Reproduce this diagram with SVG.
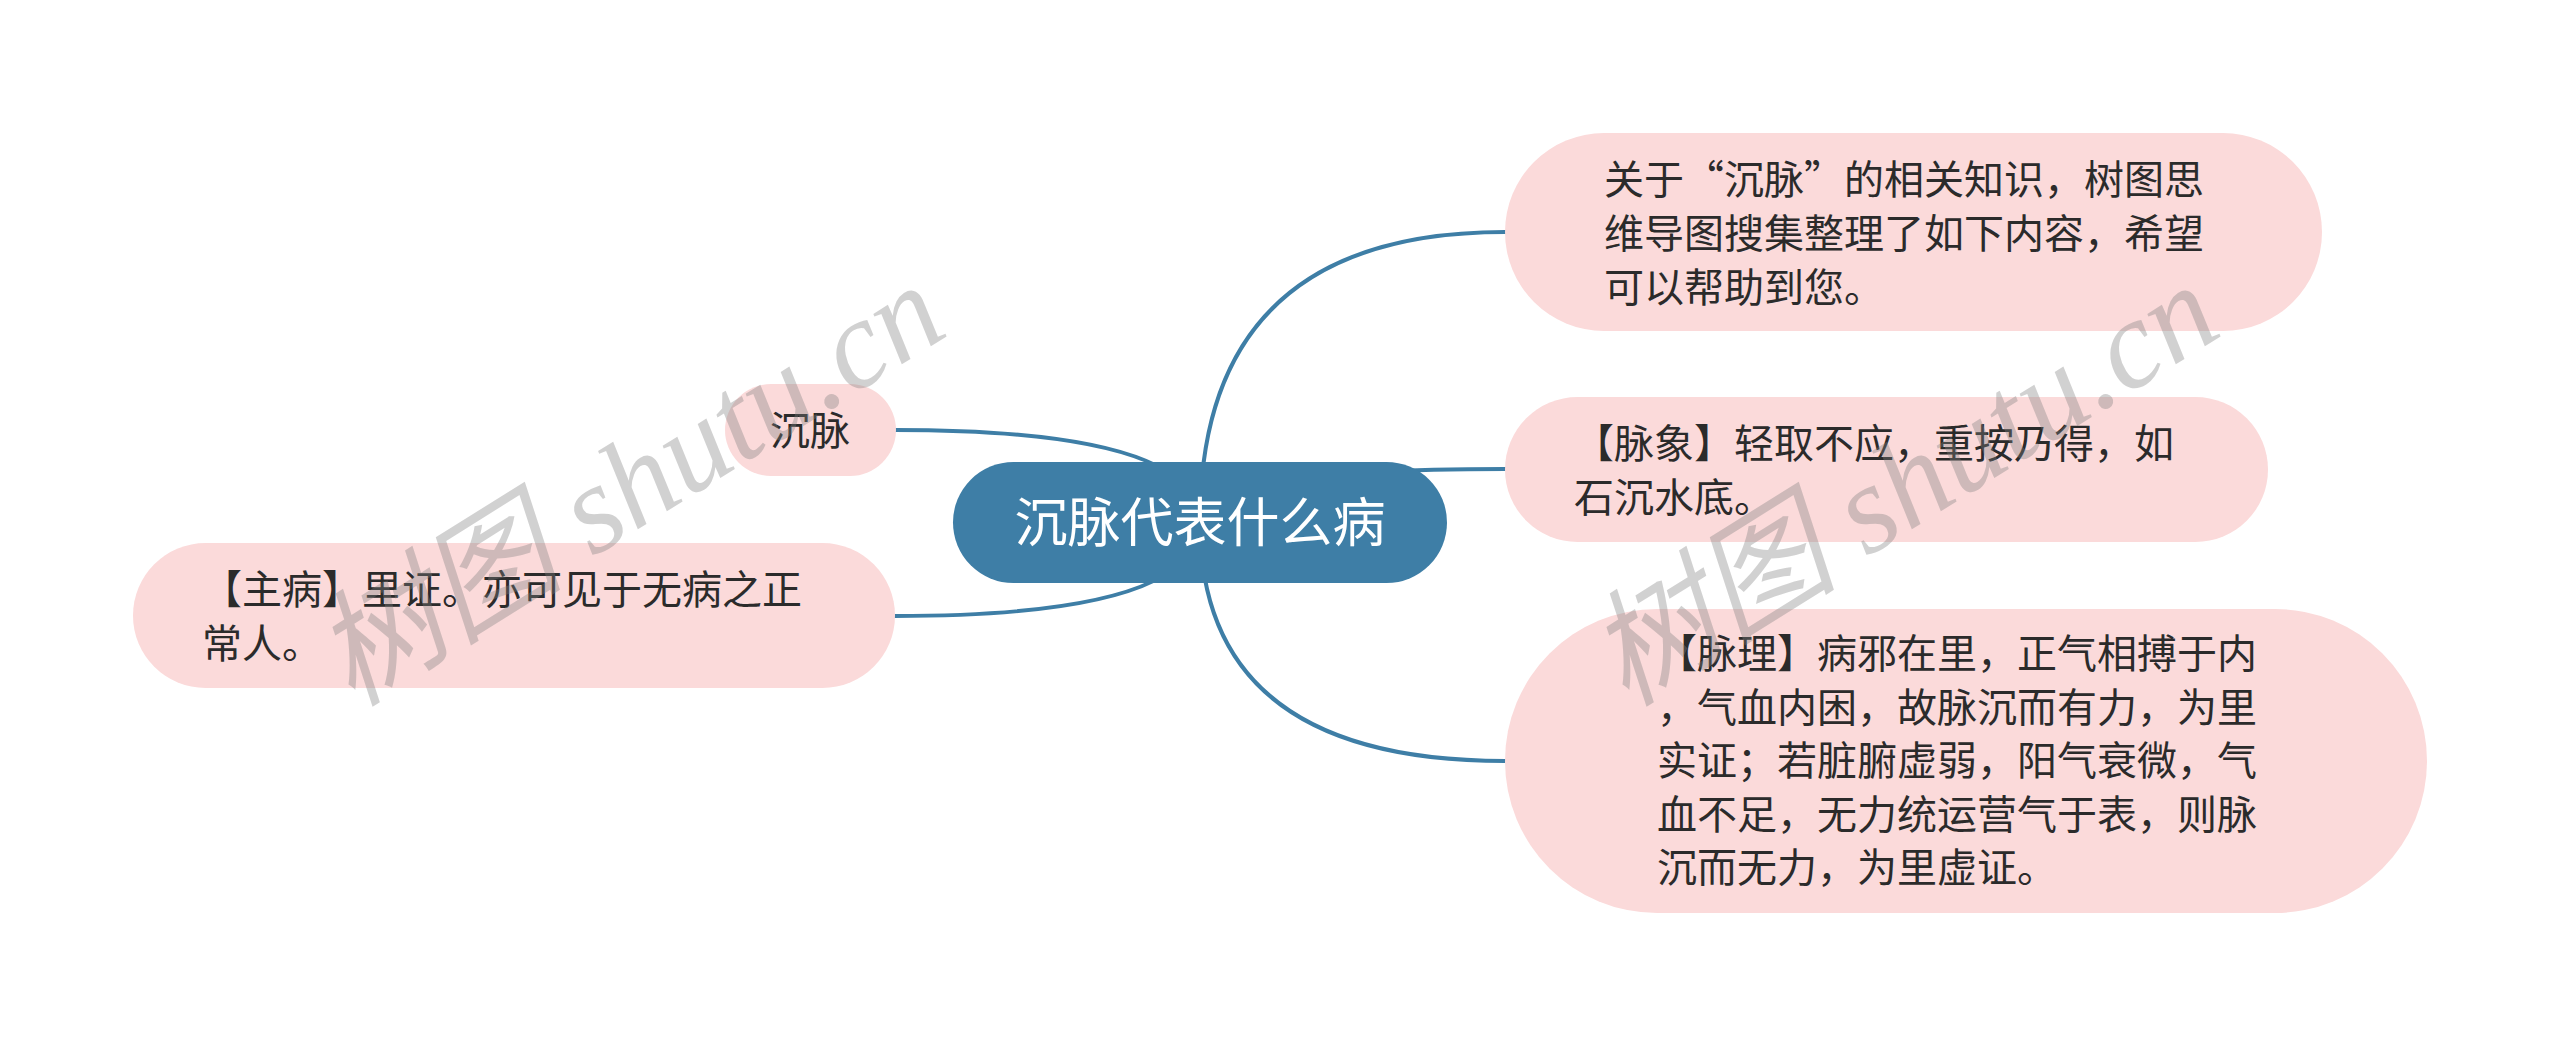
<svg xmlns="http://www.w3.org/2000/svg" width="2560" height="1046" viewBox="0 0 2560 1046">
<style>
.conn{fill:none;stroke:#3e7ea6;stroke-width:4;stroke-linecap:round}
.sub{fill:#fbdada}
.t{font-family:"Noto Sans CJK SC","Noto Sans",sans-serif;font-size:40px;fill:#2b2b2b}
.root{fill:#3e7ea6}
.rt{font-family:"Noto Sans CJK SC","Noto Sans",sans-serif;font-size:53px;fill:#ffffff}
.wm{font-family:"Liberation Serif","Noto Sans CJK SC",serif;font-size:126px;font-style:italic;fill:#808080;fill-opacity:0.36}
</style>
<rect width="2560" height="1046" fill="#ffffff"/>
<g id="connectors">
<path class="conn" d="M1200,522 Q1200,232 1505,232"/>
<path class="conn" d="M1200,522 Q1200,469 1505,469"/>
<path class="conn" d="M1200,522 Q1200,761 1505,761"/>
<path class="conn" d="M1200,522 Q1200,430 895,430"/>
<path class="conn" d="M1200,522 Q1200,616 895,616"/>
</g>
<g id="root">
<rect class="root" x="953" y="462" width="494" height="121" rx="60.5"/>
<text class="rt" x="1200" y="542" text-anchor="middle">沉脉代表什么病</text>
</g>
<g id="node-intro">
<rect class="sub" x="1505" y="133" width="817" height="198" rx="99"/>
<text class="t"><tspan x="1604" y="194">关于“沉脉”的相关知识，树图思</tspan><tspan x="1604" y="248">维导图搜集整理了如下内容，希望</tspan><tspan x="1604" y="302">可以帮助到您。</tspan></text>
</g>
<g id="node-maixiang">
<rect class="sub" x="1505" y="397" width="763" height="145" rx="72.5"/>
<text class="t"><tspan x="1574" y="458">【脉象】轻取不应，重按乃得，如</tspan><tspan x="1574" y="512">石沉水底。</tspan></text>
</g>
<g id="node-maili">
<rect class="sub" x="1505" y="609" width="922" height="304" rx="152"/>
<text class="t"><tspan x="1657" y="668">【脉理】病邪在里，正气相搏于内</tspan><tspan x="1657" y="722">，气血内困，故脉沉而有力，为里</tspan><tspan x="1657" y="775">实证；若脏腑虚弱，阳气衰微，气</tspan><tspan x="1657" y="829">血不足，无力统运营气于表，则脉</tspan><tspan x="1657" y="882">沉而无力，为里虚证。</tspan></text>
</g>
<g id="node-chenmai">
<rect class="sub" x="725" y="384" width="171" height="92" rx="46"/>
<text class="t" x="810" y="445" text-anchor="middle">沉脉</text>
</g>
<g id="node-zhubing">
<rect class="sub" x="133" y="543" width="762" height="145" rx="72.5"/>
<text class="t"><tspan x="202" y="604">【主病】里证。亦可见于无病之正</tspan><tspan x="202" y="658">常人。</tspan></text>
</g>
<g id="watermarks">
<text class="wm" transform="translate(352,708) rotate(-32)">树图 shutu.cn</text>
<text class="wm" transform="translate(1626,708) rotate(-32)">树图 shutu.cn</text>
</g>
</svg>
